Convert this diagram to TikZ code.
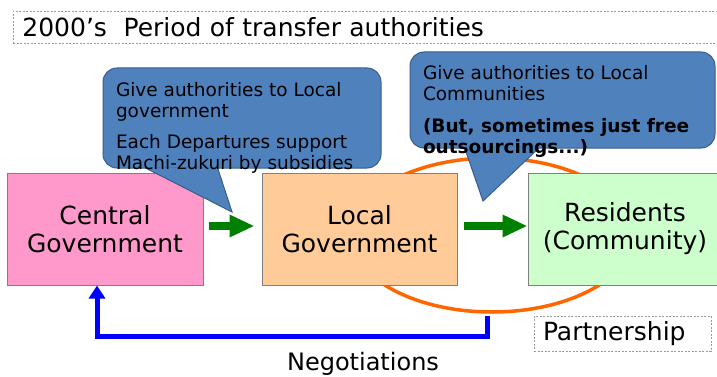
\documentclass[tikz,border=0pt]{standalone}
\usepackage{fontspec}
\setmainfont{DejaVu Sans}
\usetikzlibrary{arrows.meta,shapes.geometric}

\definecolor{centralpink}{HTML}{FF99CC}
\definecolor{localorange}{HTML}{FFCC99}
\definecolor{residentgreen}{HTML}{CCFFCC}
\definecolor{bubbleblue}{HTML}{4F81BD}
\definecolor{bubbleedge}{HTML}{385D8A}
\definecolor{partnerorange}{HTML}{FF6600}
\definecolor{flowgreen}{HTML}{008000}

\tikzset{
every picture/.style={
line width=1pt
}}

\begin{document}
\begin{tikzpicture}[x=1pt,y=-1pt,
  actor/.style={draw=gray, minimum width=196pt, minimum height=112pt, align=center, font=\fontsize{25}{28}\selectfont},
  bubble/.style={fill=bubbleblue, draw=bubbleedge, rounded corners=14pt},
  bubbletext/.style={anchor=north west, align=left, inner sep=0pt, font=\fontsize{18.5}{21}\selectfont},
  flow/.style={-{Triangle[length=25pt,width=21pt]}, flowgreen, line width=8pt},
  negot/.style={-{Triangle[length=13pt,width=16pt]}, blue, line width=5pt},
  dotbox/.style={draw=gray!80, dash pattern=on 2pt off 1.5pt, line width=0.8pt, align=left, inner xsep=9pt, font=\fontsize{25}{28}\selectfont}]

\useasboundingbox (0,0) rectangle (717,377);

\node[dotbox, anchor=north west, minimum height=32pt, text width=691pt] (title) at (13,11) {2000’s\ \ Period of transfer authorities};

\node[draw=partnerorange, line width=3.5pt, ellipse, minimum width=282pt, minimum height=154pt, inner sep=0pt] (partner) at (492,235) {};

\node[actor, fill=centralpink] (central) at (105,229) {Central\\Government};
\node[actor, fill=localorange, minimum width=195pt] (local) at (359.5,229) {Local\\Government};
\node[actor, fill=residentgreen, minimum width=194pt] (residents) at (625,229) {Residents\\(Community)};

\node[bubble, minimum width=278pt, minimum height=100pt] (bubA) at (242,118) {};
\node[bubble, minimum width=305pt, minimum height=96pt] (bubB) at (562.5,100) {};

\coordinate (tipA) at (232,212);
\coordinate (baseA1) at ([xshift=42pt,yshift=1pt]bubA.south west);
\coordinate (baseA2) at ([xshift=115pt,yshift=1pt]bubA.south west);
\coordinate (tipB) at (483,201);
\coordinate (baseB1) at ([xshift=55pt,yshift=1pt]bubB.south west);
\coordinate (baseB2) at ([xshift=130pt,yshift=1pt]bubB.south west);
\filldraw[fill=bubbleblue, draw=bubbleedge] (baseA1) -- (tipA) -- (baseA2);
\filldraw[fill=bubbleblue, draw=bubbleedge] (baseB1) -- (tipB) -- (baseB2);

\node[bubbletext] (textA) at ([xshift=13pt,yshift=-14pt]bubA.north west) {Give authorities to Local\\government\\[10pt]Each Departures support\\Machi-zukuri by subsidies};
\node[bubbletext] (textB) at ([xshift=13pt,yshift=-13pt]bubB.north west) {Give authorities to Local\\Communities\\[11pt]\textbf{(But, sometimes just free}\\\textbf{outsourcings...)}};

\draw[flow, shorten <=5pt, shorten >=7pt] ([yshift=3pt]central.east) -- ([yshift=3pt]local.west);
\draw[flow, shorten <=6pt] ([yshift=3pt]local.east) -- ([yshift=3pt]residents.west);

\coordinate (negcorner) at (487,336);
\draw[negot] ([xshift=-5pt,yshift=-2pt]partner.south) -- (negcorner) -| ([xshift=-8pt]central.south);
\node[font=\fontsize{24}{28}\selectfont] (negotlabel) at (363,364) {Negotiations};

\node[dotbox, minimum height=35pt, text width=159pt] (partnership) at (622.5,333.5) {Partnership};
\end{tikzpicture}
\end{document}
